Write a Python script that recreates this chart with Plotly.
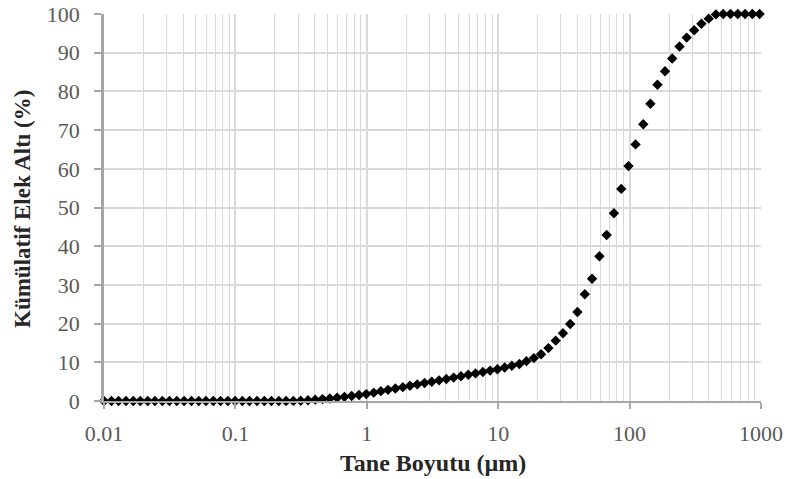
import plotly.graph_objects as go

# Particle size classes (µm)
size_um = [
    0.0100, 0.0114, 0.0129, 0.0147, 0.0167, 0.0189, 0.0215, 0.0244, 0.0278, 0.0315,
    0.0358, 0.0407, 0.0463, 0.0526, 0.0597, 0.0679, 0.0771, 0.0876, 0.0995, 0.113,
    0.128, 0.146, 0.166, 0.188, 0.214, 0.243, 0.276, 0.314, 0.357, 0.405,
    0.460, 0.523, 0.594, 0.675, 0.767, 0.872, 0.991, 1.13, 1.28, 1.45,
    1.65, 1.88, 2.13, 2.42, 2.75, 3.12, 3.55, 4.03, 4.58, 5.21,
    5.92, 6.72, 7.64, 8.68, 9.86, 11.2, 12.7, 14.5, 16.4, 18.7,
    21.2, 24.1, 27.4, 31.1, 35.3, 40.1, 45.6, 51.8, 58.9, 66.9,
    76.0, 86.4, 98.1, 111, 127, 144, 163, 186, 211, 240,
    272, 310, 352, 400, 454, 516, 586, 666, 756, 859, 976,
]

# Cumulative passing (%)
cum_passing = [
    0, 0, 0, 0, 0, 0, 0, 0, 0, 0,
    0, 0, 0, 0, 0, 0, 0, 0, 0, 0,
    0, 0, 0, 0, 0, 0, 0.02, 0.05, 0.2, 0.35,
    0.49, 0.64, 0.83, 1.07, 1.30, 1.54, 1.78, 2.16, 2.54, 2.88,
    3.22, 3.58, 3.94, 4.29, 4.64, 4.99, 5.34, 5.70, 6.05, 6.40,
    6.77, 7.13, 7.49, 7.86, 8.22, 8.67, 9.11, 9.56, 10.30, 11.09,
    12.09, 13.67, 15.6, 17.5, 19.9, 23.0, 27.6, 31.6, 37.4, 42.9,
    48.5, 54.8, 60.7, 66.3, 71.5, 76.8, 81.7, 85.2, 88.5, 91.6,
    93.9, 95.8, 97.5, 98.8, 99.9, 100, 100, 100, 100, 100, 100,
]

x_tickvals = [0.01, 0.1, 1, 10, 100, 1000]
x_ticktext = ["0.01", "0.1", "1", "10", "100", "1000"]
y_tickvals = [0, 10, 20, 30, 40, 50, 60, 70, 80, 90, 100]

x_title = "Tane Boyutu (µm)"
y_title = "Kümülatif Elek Altı (%)"

minor_vals = [m * d for d in [0.01, 0.1, 1, 10, 100] for m in range(2, 10)]

GRID = "#d9d9d9"
AXIS = "#a6a6a6"
TICKFONT = dict(family="Liberation Serif", size=22, color="#595959")
TITLEFONT = dict(family="Liberation Serif", size=23, color="#262626")

fig = go.Figure()
fig.add_trace(go.Scatter(
    x=size_um, y=cum_passing, mode="markers",
    marker=dict(symbol="diamond", size=8, color="black"),
    cliponaxis=False, showlegend=False,
))

fig.update_layout(
    width=785, height=479,
    margin=dict(l=104, r=24, t=14, b=78),
    paper_bgcolor="white", plot_bgcolor="white",
    xaxis=dict(
        type="log", range=[-2, 3], automargin=False,
        tickvals=x_tickvals, ticktext=x_ticktext,
        tickfont=TICKFONT, ticklabeloverflow="allow",
        showgrid=True, gridcolor=GRID, gridwidth=1.5,
        minor=dict(tickvals=minor_vals, showgrid=True, gridcolor=GRID, gridwidth=1.2, ticks=""),
        ticks="outside", ticklen=6, tickcolor=AXIS, tickwidth=1.5,
        showline=True, linecolor=AXIS, linewidth=2,
        ticklabelstandoff=6,
    ),
    yaxis=dict(
        range=[0, 100], tickvals=y_tickvals, automargin=False,
        tickfont=TICKFONT, ticklabeloverflow="allow",
        showgrid=True, gridcolor=GRID, gridwidth=1.5,
        ticks="outside", ticklen=7, tickcolor=AXIS, tickwidth=1.5,
        showline=True, linecolor=AXIS, linewidth=2.5,
        zeroline=False,
        ticklabelstandoff=10,
    ),
    annotations=[
        dict(text="<b>" + x_title + "</b>", xref="paper", yref="paper",
             x=0.5, y=-0.16, xanchor="center", yanchor="middle",
             showarrow=False, font=dict(family="Liberation Serif", size=24, color="#262626")),
        dict(text="<b>" + y_title + "</b>", xref="paper", yref="paper",
             x=(22 - 104) / 657, y=(401 - 209) / 387, xanchor="center", yanchor="middle",
             textangle=-90, showarrow=False, font=TITLEFONT),
    ],
)

# remove the browser's default 8px body margin so the figure sits at the page origin
fig.write_html(
    "out.html",
    config={"displayModeBar": False},
    post_script="document.body.style.margin='0';",
)
